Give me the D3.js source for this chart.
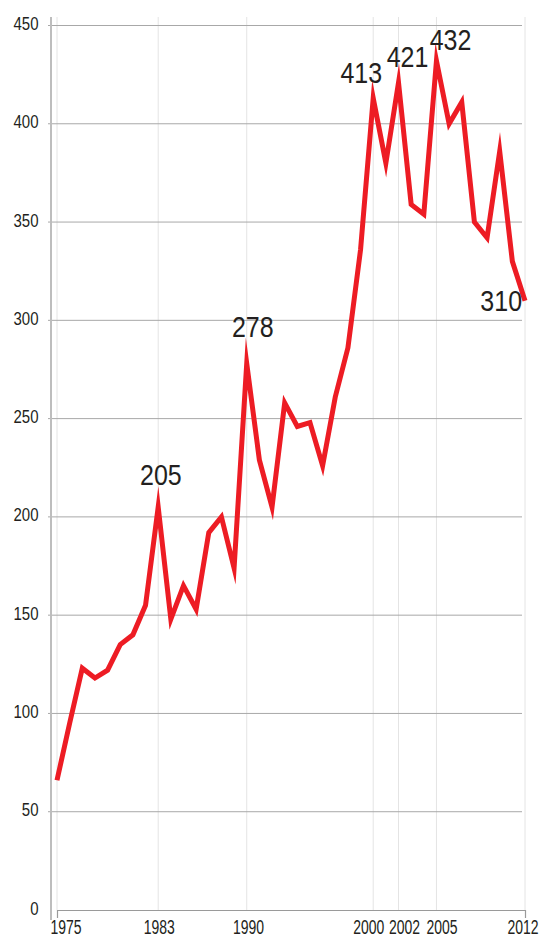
<!DOCTYPE html>
<html>
<head>
<meta charset="utf-8">
<script src="https://cdn.jsdelivr.net/npm/d3@7"></script>
<style>
	body { margin: 0; background: #fff; }
	text { font-family: "Liberation Sans", Arial, sans-serif; fill: #231f20; }
</style>
</head>
<body>
<div id="viz"></div>
<script>

// data
var years = [1975, 1976, 1977, 1978, 1979, 1980, 1981, 1982, 1983, 1984,
	1985, 1986, 1987, 1988, 1989, 1990, 1991, 1992, 1993, 1994,
	1995, 1996, 1997, 1998, 1999, 2000, 2001, 2002, 2003, 2004,
	2005, 2006, 2007, 2008, 2009, 2010, 2011, 2012];

var values = [66, 95, 123, 118, 122, 135, 140, 155, 205, 148,
	165, 153, 192, 200, 174, 278, 229, 205, 258, 246,
	248, 226, 261, 286, 336, 413, 380, 421, 359, 354,
	432, 400, 411, 350, 342, 386, 330, 310];

var xTicks = [1975, 1983, 1990, 2000, 2002, 2005, 2012];
var yTicks = [0, 50, 100, 150, 200, 250, 300, 350, 400, 450];

// years that get a value label
var labelYears = [1983, 1990, 2000, 2002, 2005, 2012];


var width = 540,
	height = 938,
	axisX = 51,
	gridRight = 522,
	plotTop = 17,
	lineColor = '#ed1c24';

// the original type is a condensed face: small size, stretched tall
var xFont = 14, xStretch = 1.5,
	yFont = 15, yStretch = 1.24,
	labelFont = 25, labelStretch = 1.21;

// nudge of the year labels (px)
var yearNudge = {1975: 8.5, 1983: 0.5, 1990: 1.3, 2000: -5, 2002: 5.5, 2005: 5, 2012: -2.5};

// value label placement next to the point (dx, dy)
var labelPos = {
	1983: [2.7, -22],
	1990: [6, -26.3],
	2000: [-11.9, -15],
	2002: [9, -15.8],
	2005: [14.1, -10.9],
	2012: [-23.8, 10]
};

var data = years.map(function(d, i){
	return {year: d, value: values[i]};
});

var xScale = d3.scaleLinear()
	.domain([1975, 2012])
	.range([57, 525]);

var yScale = d3.scaleLinear()
	.domain([0, 450])
	.range([910, 25.5]);

var svg = d3.select('#viz').append('svg')
	.attr('width', width)
	.attr('height', height);

// vertical grid at the year ticks
svg.append('g')
	.selectAll('line').data(xTicks)
	.enter().append('line')
	.attr('x1', function(d){ return xScale(d); })
	.attr('x2', function(d){ return xScale(d); })
	.attr('y1', plotTop)
	.attr('y2', yScale(0))
	.attr('stroke', '#e4e4e4')
	.attr('stroke-width', 1);

// horizontal grid
svg.append('g')
	.selectAll('line').data(yTicks.slice(1))
	.enter().append('line')
	.attr('x1', axisX - 3)
	.attr('x2', gridRight)
	.attr('y1', function(d){ return yScale(d); })
	.attr('y2', function(d){ return yScale(d); })
	.attr('stroke', '#a8a8a8')
	.attr('stroke-width', 1);

// x axis
var xAxis = svg.append('g')
	.attr('transform', 'translate(0,' + yScale(0) + ')')
	.call(d3.axisBottom(xScale)
		.tickValues(xTicks)
		.tickFormat(d3.format('d'))
		.tickSizeInner(0)
		.tickSizeOuter(8));

xAxis.select('.domain')
	.attr('stroke', '#9a9a9a')
	.attr('stroke-width', 1.2);

xAxis.selectAll('text')
	.attr('font-size', xFont)
	.attr('fill', '#231f20')
	.attr('y', null)
	.attr('dy', null)
	.attr('transform', function(d){
		return 'translate(' + yearNudge[d] + ',24) scale(1,' + xStretch + ')';
	});

// y axis
var yAxis = svg.append('g')
	.attr('transform', 'translate(' + axisX + ',0)')
	.call(d3.axisLeft(yScale)
		.tickValues(yTicks)
		.tickSize(0));

yAxis.select('.domain').remove();

yAxis.append('line')
	.attr('x1', 0)
	.attr('x2', 0)
	.attr('y1', plotTop)
	.attr('y2', yScale(0) + 10)
	.attr('stroke', '#bdbdbd')
	.attr('stroke-width', 2);

yAxis.selectAll('text')
	.attr('font-size', yFont)
	.attr('fill', '#231f20')
	.attr('x', null)
	.attr('dy', null)
	.attr('transform', 'translate(-12.5,4) scale(1,' + yStretch + ')');

// the line
var line = d3.line()
	.x(function(d){ return xScale(d.year); })
	.y(function(d){ return yScale(d.value); });

svg.append('path')
	.datum(data)
	.attr('d', line)
	.attr('fill', 'none')
	.attr('stroke', lineColor)
	.attr('stroke-width', 5)
	.attr('stroke-linejoin', 'miter')
	.attr('stroke-miterlimit', 30);

// value labels
svg.append('g')
	.selectAll('text')
	.data(data.filter(function(d){ return labelYears.indexOf(d.year) > -1; }))
	.enter().append('text')
	.attr('transform', function(d){
		var px = xScale(d.year) + labelPos[d.year][0],
			py = yScale(d.value) + labelPos[d.year][1];
		return 'translate(' + px + ',' + py + ') scale(1,' + labelStretch + ')';
	})
	.attr('text-anchor', 'middle')
	.attr('font-size', labelFont)
	.text(function(d){ return d.value; });

</script>
</body>
</html>
